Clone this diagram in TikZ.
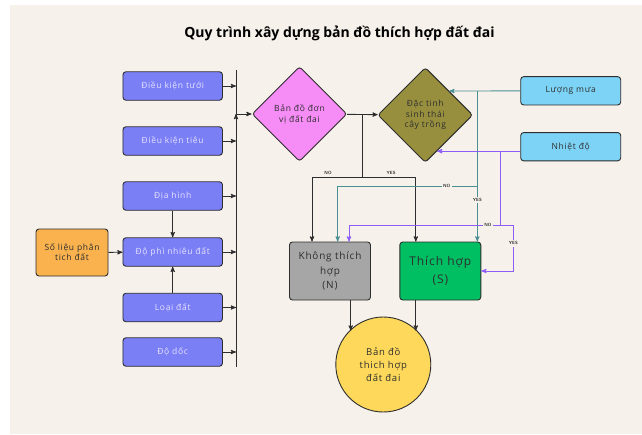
\documentclass[tikz,border=0pt]{standalone}
\usepackage{fontspec}
\setmainfont{Open Sans}
\newfontfamily\boxfont[LetterSpace=8]{Open Sans}
\usetikzlibrary{arrows,shapes.geometric}
\definecolor{bgcream}{HTML}{F6F1EA}
\definecolor{paramblue}{HTML}{7B7FF5}
\definecolor{paramtext}{HTML}{E6E4FF}
\definecolor{dataorange}{HTML}{F9B24E}
\definecolor{mappink}{HTML}{F68CF6}
\definecolor{cropolive}{HTML}{978F3E}
\definecolor{climateblue}{HTML}{7DD3F5}
\definecolor{classgray}{HTML}{A6A6A6}
\definecolor{classgreen}{HTML}{00BF63}
\definecolor{resultyellow}{HTML}{FDD85A}
\definecolor{rainteal}{HTML}{4A8F94}
\definecolor{heatpurple}{HTML}{8E5CF7}
\definecolor{edgedark}{HTML}{2E2E2E}

\begin{document}
\begin{tikzpicture}[x=1pt,y=-1pt,-,>=stealth',line width=0.9pt,
  box/.style={draw=edgedark,rounded corners=3pt,align=center,inner sep=1pt,
    font=\boxfont\fontsize{8.5}{10}\selectfont},
  param node/.style={box,fill=paramblue,text=paramtext,minimum width=99.5,minimum height=28.5},
  data node/.style={box,fill=dataorange,text=edgedark,minimum width=72,minimum height=47},
  climate node/.style={box,fill=climateblue,text=edgedark,minimum width=100,minimum height=28.3},
  choice node/.style={diamond,draw=edgedark,rounded corners=3pt,align=center,inner sep=0pt,
    minimum width=95,minimum height=95,text=edgedark,font=\boxfont\fontsize{8.5}{10.5}\selectfont},
  class node/.style={box,minimum width=81,minimum height=58,text=edgedark},
  result node/.style={circle,draw=edgedark,fill=resultyellow,minimum size=95,align=center,
    text=edgedark,font=\boxfont\fontsize{9.5}{13}\selectfont},
  tag node/.style={font=\sffamily\bfseries\fontsize{4.5}{5}\selectfont,text=edgedark,inner sep=1.5pt}]

  \fill[white] (0,0) rectangle (642,434);
  \fill[bgcream] (10,5) rectangle (642,434);
  \useasboundingbox (0,0) rectangle (642,434);

  \node[font=\bfseries\fontsize{14}{16}\selectfont] (title) at (339.5,33) {Quy trình xây dựng bản đồ thích hợp đất đai};

  \node[param node] (tuoi) at (172.7,86) {Điều kiện tưới};
  \node[param node] (tieu) at (172.7,141) {Điều kiện tiêu};
  \node[param node] (diahinh) at (172.7,196) {Địa hình};
  \node[param node] (phi) at (172.7,252) {Độ phì nhiêu đất};
  \node[param node] (loai) at (172.7,307.5) {Loại đất};
  \node[param node] (doc) at (172.7,352) {Độ dốc};
  \node[data node] (solieu) at (72,252.5) {Số liệu phân\\tich đất};

  \coordinate (bartop) at (236,70);
  \coordinate (barbot) at (236,367);
  \draw[edgedark] (bartop) -- (barbot);

  \node[choice node,fill=mappink] (donvi) at (299.5,114) {Bản đồ đơn\\vị đất đai};
  \node[choice node,fill=cropolive] (sinhthai) at (425.3,115) {Đặc tinh\\sinh thái\\cây trồng};

  \node[climate node] (luongmua) at (570.7,90.8) {Lượng mưa};
  \node[climate node] (nhietdo) at (570.7,146.7) {Nhiệt độ};

  \node[class node,fill=classgray,font=\boxfont\fontsize{10}{14.5}\selectfont] (khong) at (330,271) {Không thích\\hợp\\(N)};
  \node[class node,fill=classgreen,font=\boxfont\fontsize{12}{18}\selectfont] (thich) at (440.3,271) {Thích hợp\\(S)};

  \node[result node] (bando) at (383.3,364.5) {Bản đồ\\thich hợp\\đất đai};

  \path[->,draw=edgedark]
    (tuoi) edge (tuoi -| bartop)
    (tieu) edge (tieu -| bartop)
    (diahinh) edge (diahinh -| bartop)
    (phi) edge (phi -| bartop)
    (loai) edge (loai -| bartop)
    (doc) edge (doc -| bartop)
    (diahinh) edge (phi)
    (loai) edge (phi)
    (solieu) edge (phi)
    (donvi -| bartop) edge (donvi)
    (donvi) edge (sinhthai);

  \coordinate (split) at (362,177);
  \draw[edgedark] (split |- donvi.east) -- (split);
  \draw[->,edgedark] (split) -| node[tag node,above,pos=0.34] {NO} ([xshift=-18]khong.north);
  \draw[->,edgedark] (split) -| node[tag node,above,pos=0.27] {YES} ([xshift=-24.5]thich.north);

  \coordinate (tj) at (477.3,186);
  \draw[->,rainteal] (luongmua) -- (sinhthai.north east);
  \draw[rainteal] (tj |- luongmua.west) -- (tj);
  \draw[->,rainteal] (tj) -- node[tag node,fill=bgcream,pos=0.25] {YES} (tj |- thich.north);
  \draw[->,rainteal] (tj) -| node[tag node,fill=bgcream,pos=0.11] {NO} ([xshift=7.7]khong.north);

  \coordinate (pj) at (500,225);
  \coordinate (pyes) at (513.3,225);
  \draw[->,heatpurple] (nhietdo.west |- sinhthai.-72) -- (sinhthai.-72);
  \draw[heatpurple] (pj |- sinhthai.-72) -- (pj);
  \draw[->,heatpurple] (pj) -| node[tag node,fill=bgcream,pos=0.04] {NO} ([xshift=19]khong.north);
  \draw[->,heatpurple] (pj) -- (pyes) |- node[tag node,fill=bgcream,pos=0.2] {YES} (thich.east);

  \draw[->,edgedark] ([xshift=20.7]khong.south) -- ([xshift=20.7]khong.south |- bando.north west);
  \draw[->,edgedark] ([xshift=-24.5]thich.south) -- ([xshift=-24.5]thich.south |- bando.north east);
\end{tikzpicture}
\end{document}
